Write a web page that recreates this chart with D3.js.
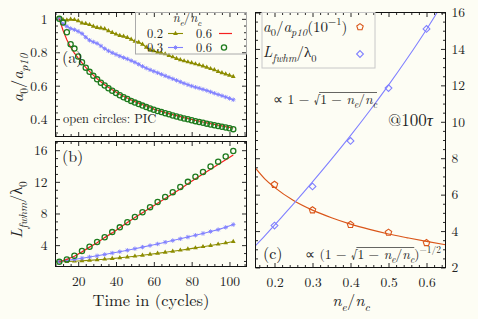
<!DOCTYPE html>
<html>
<head>
<meta charset="utf-8">
<script src="https://cdn.jsdelivr.net/npm/d3@7"></script>
<style>
  body { margin: 0; background: #fdfdf4; }
  svg { display: block; }
</style>
</head>
<body>
<div id="chart"></div>
<script>
// ---- data ----
// panel (a): a0/ap10 vs time, sampled every 2 cycles
const timeA = [10,12,14,16,18,20,22,24,26,28,30,32,34,36,38,40,42,44,46,48,50,52,54,56,58,60,
  62,64,66,68,70,72,74,76,78,80,82,84,86,88,90,92,94,96,98,100,102];
const ampOlive = [1.0,0.995,0.993,0.997,0.995,0.988,0.975,0.972,0.965,0.955,0.948,0.945,0.94,0.928,0.918,
  0.908,0.9,0.895,0.888,0.878,0.866,0.86,0.848,0.83,0.815,0.808,0.8,0.795,0.79,0.78,0.772,0.762,0.755,
  0.748,0.742,0.737,0.73,0.724,0.717,0.71,0.702,0.695,0.685,0.677,0.67,0.662,0.655];
const ampBlue = [1.0,0.97,0.955,0.942,0.935,0.925,0.912,0.89,0.872,0.862,0.853,0.838,0.822,0.808,0.797,
  0.787,0.777,0.768,0.76,0.75,0.74,0.728,0.716,0.705,0.695,0.686,0.677,0.668,0.659,0.65,0.641,0.632,
  0.623,0.614,0.606,0.598,0.591,0.585,0.578,0.571,0.563,0.555,0.547,0.54,0.532,0.524,0.516];
const ampRed = [1.0,0.93,0.875,0.83,0.795,0.765,0.737,0.71,0.686,0.663,0.642,0.623,0.606,0.59,0.576,
  0.562,0.549,0.537,0.526,0.515,0.505,0.496,0.487,0.479,0.471,0.46,0.453,0.446,0.439,0.433,0.427,
  0.421,0.415,0.409,0.404,0.398,0.393,0.388,0.383,0.378,0.373,0.369,0.364,0.36,0.355,0.351,0.347];
const ampPIC = [1.0,0.978,0.92,0.848,0.822,0.775,0.74,0.708,0.683,0.659,0.638,0.618,0.601,0.585,0.57,
  0.556,0.543,0.531,0.52,0.509,0.499,0.49,0.481,0.472,0.464,0.456,0.449,0.442,0.435,0.429,0.422,
  0.416,0.41,0.404,0.399,0.393,0.388,0.383,0.378,0.373,0.368,0.363,0.359,0.354,0.35,0.345,0.34];

// panel (b): Lfwhm/lambda0 vs time, sampled every 4 cycles
const timeB = [10,14,18,22,26,30,34,38,42,46,50,54,58,62,66,70,74,78,82,86,90,94,98,102];
const lenOlive = [1.9,1.93,1.97,2.02,2.08,2.15,2.22,2.3,2.4,2.5,2.6,2.72,2.84,2.96,3.1,3.22,3.36,
  3.5,3.65,3.8,3.95,4.12,4.28,4.45];
const lenBlue = [1.9,2.05,2.2,2.35,2.5,2.65,2.82,3.0,3.17,3.35,3.55,3.75,3.95,4.15,4.37,4.58,4.8,
  5.02,5.25,5.48,5.72,5.96,6.25,6.6];
const lenRed = [1.9,2.2,2.6,3.15,3.75,4.3,4.95,5.55,6.2,6.85,7.5,8.1,8.7,9.3,9.9,10.5,11.1,11.75,
  12.4,13.0,13.6,14.2,14.8,15.4];
const lenPIC = [1.9,2.2,2.65,3.25,3.8,4.4,5.0,5.65,6.25,6.9,7.55,8.15,8.8,9.45,10.1,10.7,11.35,
  12.0,12.65,13.25,13.95,14.55,15.2,15.9];

// panel (c): values at 100 tau vs ne/nc
const density = [0.2,0.3,0.4,0.5,0.6];
const ampAt100 = [6.55,5.15,4.35,3.92,3.35];     // a0/ap10 (x10)
const lenAt100 = [4.3,6.45,8.95,11.85,15.1];     // Lfwhm/lambda0
const fitX = [0.15,0.175,0.2,0.25,0.3,0.35,0.4,0.45,0.5,0.55,0.6,0.65];
const fitAmp = [7.45,6.85,6.4,5.68,5.15,4.73,4.38,4.09,3.84,3.63,3.43,3.25];
const fitLen = [3.2,3.75,4.33,5.49,6.7,7.95,9.24,10.59,12.01,13.5,15.07,16.75];

const tickA = [0.4,0.6,0.8,1.0];
const tickB = [4,8,12,16];
const tickT = [20,40,60,80,100];
const tickCx = [0.2,0.3,0.4,0.5,0.6];
const tickCy = [2,4,6,8,10,12,14,16];

// ---- layout ----
const W = 478, H = 319;
const BG = "#fdfdf4";
const FONT = "'Latin Modern Roman', 'Liberation Serif', serif";
const INK = "#222";
const OLIVE = "#8c8c00", BLUE = "#8080ff", RED = "#f52020", GREEN = "#1e7b1e", ORANGE = "#da561a";

const svg = d3.select("#chart").append("svg").attr("width", W).attr("height", H)
  .attr("font-family", FONT);
svg.append("rect").attr("width", W).attr("height", H).attr("fill", BG);

const pa = { x0: 55.5, x1: 246.5, y0: 12.5, y1: 136.5 };
const pb = { x0: 55.5, x1: 246.5, y0: 141.5, y1: 266.5 };
const pc = { x0: 255.5, x1: 445.5, y0: 12.5, y1: 267.5 };

const xT = d3.scaleLinear().domain([8, 109]).range([pa.x0, pa.x1]);
const yA = d3.scaleLinear().domain([0.296, 1.038]).range([pa.y1, pa.y0]);
const yB = d3.scaleLinear().domain([1.3, 17.1]).range([pb.y1, pb.y0]);
const xC = d3.scaleLinear().domain([0.15, 0.65]).range([pc.x0, pc.x1]);
const yC = d3.scaleLinear().domain([2, 16]).range([pc.y1, pc.y0]);

const noLabel = () => "";

function drawAxis(gen, scale, at, major, minor, fmt, pad) {
  const gMaj = svg.append("g").attr("transform", at)
    .call(gen(scale).tickValues(major).tickSize(-4.5).tickPadding(pad || 0).tickFormat(fmt || noLabel));
  const gMin = svg.append("g").attr("transform", at)
    .call(gen(scale).tickValues(minor).tickSize(-2.5).tickFormat(noLabel));
  [gMaj, gMin].forEach(s => {
    s.attr("font-family", FONT);
    s.select(".domain").remove();
    s.selectAll("line").attr("stroke", "#111").attr("stroke-width", 0.9);
  });
  gMaj.selectAll("text").attr("font-size", 13.5).attr("fill", INK).attr("font-family", FONT);
}

function frame(p) {
  svg.append("rect").attr("x", p.x0).attr("y", p.y0)
    .attr("width", p.x1 - p.x0).attr("height", p.y1 - p.y0)
    .attr("fill", "none").attr("stroke", "#111").attr("stroke-width", 1);
}

// math-ish text: parts = [[string, kind]], kind: i (italic), sub, sup, isub
function tex(parent, x, y, parts, size, anchor) {
  const t = parent.append("text").attr("x", x).attr("y", y)
    .attr("font-size", size).attr("fill", INK).attr("font-family", FONT)
    .attr("text-anchor", anchor || "start");
  let shift = 0;
  const spans = [];
  parts.forEach(([str, kind]) => {
    kind = kind || "";
    const target = kind.includes("sub") ? size * 0.3 : kind.includes("sup") ? -size * 0.42 : 0;
    const ts = t.append("tspan").attr("dy", target - shift).text(str);
    shift = target;
    if (kind.includes("sub") || kind.includes("sup")) ts.attr("font-size", size * 0.7);
    if (kind.startsWith("i")) ts.attr("font-style", "italic");
    spans.push(ts);
  });
  return { text: t, spans };
}

// bar of the square root over spans [from..to]
function overline(spans, from, to, y) {
  const a = spans[from].node().getStartPositionOfChar(0).x;
  const last = spans[to].node();
  const b = last.getEndPositionOfChar(last.getNumberOfChars() - 1).x;
  svg.append("line").attr("x1", a - 1).attr("x2", b).attr("y1", y).attr("y2", y)
    .attr("stroke", INK).attr("stroke-width", 0.7);
}

const nePart = [["n", "i"], ["e", "isub"], ["/"], ["n", "i"], ["c", "isub"]];

// ---- axes ----
const minorT = d3.range(8, 109, 4).filter(v => v % 20 !== 0);
const minorA = d3.range(0.32, 1.04, 0.04).filter(v => Math.abs(v * 5 - Math.round(v * 5)) > 1e-6);
const minorB = d3.range(2, 17.1, 1).filter(v => v % 4 !== 0);
const minorCx = d3.range(0.16, 0.65, 0.02).filter(v => Math.abs(v * 10 - Math.round(v * 10)) > 1e-6);
const minorCy = d3.range(2.5, 16, 0.5).filter(v => v % 2 !== 0);

const fmtA = d => d === 1 ? "1" : d3.format(".1f")(d);

// panel (a)
drawAxis(d3.axisLeft, yA, `translate(${pa.x0},0)`, tickA, minorA, fmtA, 8);
drawAxis(d3.axisRight, yA, `translate(${pa.x1},0)`, tickA, minorA);
drawAxis(d3.axisBottom, xT, `translate(0,${pa.y1})`, tickT, minorT);
drawAxis(d3.axisTop, xT, `translate(0,${pa.y0})`, tickT, minorT);
// panel (b)
drawAxis(d3.axisLeft, yB, `translate(${pb.x0},0)`, tickB, minorB, d3.format("d"), 8);
drawAxis(d3.axisRight, yB, `translate(${pb.x1},0)`, tickB, minorB);
drawAxis(d3.axisBottom, xT, `translate(0,${pb.y1})`, tickT, minorT, d3.format("d"), 10);
drawAxis(d3.axisTop, xT, `translate(0,${pb.y0})`, tickT, minorT);
// panel (c)
drawAxis(d3.axisLeft, yC, `translate(${pc.x0},0)`, tickCy, minorCy);
drawAxis(d3.axisRight, yC, `translate(${pc.x1},0)`, tickCy, minorCy, d3.format("d"), 6);
drawAxis(d3.axisBottom, xC, `translate(0,${pc.y1})`, tickCx, minorCx, d3.format(".1f"), 10);
drawAxis(d3.axisTop, xC, `translate(0,${pc.y0})`, tickCx, minorCx);

// ---- clip paths ----
const defs = svg.append("defs");
[["clipA", pa], ["clipB", pb], ["clipC", pc]].forEach(([id, p]) => {
  defs.append("clipPath").attr("id", id).append("rect")
    .attr("x", p.x0).attr("y", p.y0).attr("width", p.x1 - p.x0).attr("height", p.y1 - p.y0);
});

const triangle = d3.symbol().type(d3.symbolTriangle).size(10);
const starPath = "M-2.2,0H2.2M0,-2.2V2.2M-1.6,-1.6L1.6,1.6M-1.6,1.6L1.6,-1.6";
const pentPath = d3.line()(d3.range(5).map(k => {
  const a = -Math.PI / 2 + k * 2 * Math.PI / 5;
  return [3.4 * Math.cos(a), 3.4 * Math.sin(a)];
})) + "Z";
const diamondPath = "M0,-3.4L3.4,0L0,3.4L-3.4,0Z";

function series(g, xs, ys, xScale, yScale, opt) {
  const pts = xs.map((x, i) => [xScale(x), yScale(ys[i])]);
  if (opt.line) {
    g.append("path").attr("d", d3.line().curve(opt.curve || d3.curveLinear)(pts))
      .attr("fill", "none").attr("stroke", opt.color).attr("stroke-width", opt.width || 1.1);
  }
  if (!opt.marker) return;
  if (opt.marker === "circle") {
    g.selectAll(null).data(pts).enter().append("circle")
      .attr("cx", d => d[0]).attr("cy", d => d[1]).attr("r", 2.6)
      .attr("fill", "none").attr("stroke", opt.color).attr("stroke-width", 1.3);
    return;
  }
  const shape = { tri: triangle, star: starPath, pent: pentPath, diamond: diamondPath }[opt.marker];
  const m = g.selectAll(null).data(pts).enter().append("path")
    .attr("d", shape).attr("transform", d => `translate(${d[0]},${d[1]})`);
  if (opt.marker === "tri") m.attr("fill", opt.color);
  else m.attr("fill", "none").attr("stroke", opt.color)
    .attr("stroke-width", opt.marker === "star" ? 0.9 : 1.1);
}

// panel (a) curves
const gA = svg.append("g").attr("clip-path", "url(#clipA)");
series(gA, timeA, ampOlive, xT, yA, { line: true, color: OLIVE, marker: "tri" });
series(gA, timeA, ampBlue, xT, yA, { line: true, color: BLUE, marker: "star" });
series(gA, timeA, ampRed, xT, yA, { line: true, color: RED, width: 1.2 });
series(gA, timeA, ampPIC, xT, yA, { color: GREEN, marker: "circle" });

// panel (b) curves
const gB = svg.append("g").attr("clip-path", "url(#clipB)");
series(gB, timeB, lenOlive, xT, yB, { line: true, color: OLIVE, marker: "tri" });
series(gB, timeB, lenBlue, xT, yB, { line: true, color: BLUE, marker: "star" });
series(gB, timeB, lenRed, xT, yB, { line: true, color: RED, width: 1.2 });
series(gB, timeB, lenPIC, xT, yB, { color: GREEN, marker: "circle" });

// panel (c)
const gC = svg.append("g").attr("clip-path", "url(#clipC)");
series(gC, fitX, fitAmp, xC, yC, { line: true, color: ORANGE, curve: d3.curveMonotoneX, width: 1.2 });
series(gC, fitX, fitLen, xC, yC, { line: true, color: BLUE, curve: d3.curveMonotoneX, width: 1.1 });
series(gC, density, ampAt100, xC, yC, { color: ORANGE, marker: "pent" });
series(gC, density, lenAt100, xC, yC, { color: BLUE, marker: "diamond" });

// frames on top
frame(pa); frame(pb); frame(pc);

// ---- legend (a) ----
svg.append("rect").attr("x", 135.5).attr("y", 12.5).attr("width", 111).attr("height", 41.5)
  .attr("fill", "none").attr("stroke", "#aaa").attr("stroke-width", 1);
tex(svg, 187, 22, nePart, 12.5, "middle");
const legRows = [
  { y: 37.5, lab: "0.2", color: OLIVE, marker: "tri" },
  { y: 51.5, lab: "0.3", color: BLUE, marker: "star" }
];
legRows.forEach(r => {
  tex(svg, 163, r.y, [[r.lab]], 12.5, "end");
  const cy = r.y - 4;
  svg.append("line").attr("x1", 168).attr("x2", 183).attr("y1", cy).attr("y2", cy)
    .attr("stroke", r.color).attr("stroke-width", 1.1);
  const mk = svg.append("path").attr("transform", `translate(175.5,${cy})`);
  if (r.marker === "tri") mk.attr("d", triangle).attr("fill", r.color);
  else mk.attr("d", starPath).attr("fill", "none").attr("stroke", r.color).attr("stroke-width", 0.9);
  tex(svg, 212, r.y, [["0.6"]], 12.5, "end");
});
svg.append("line").attr("x1", 219).attr("x2", 232).attr("y1", 33.5).attr("y2", 33.5)
  .attr("stroke", RED).attr("stroke-width", 1.2);
svg.append("circle").attr("cx", 224).attr("cy", 47.5).attr("r", 2.6)
  .attr("fill", "none").attr("stroke", GREEN).attr("stroke-width", 1.3);

// ---- legend (c) ----
svg.append("rect").attr("x", 262).attr("y", 12.5).attr("width", 113).attr("height", 55.5)
  .attr("fill", "none").attr("stroke", "#c8c8c8").attr("stroke-width", 1);
tex(svg, 263, 31.5, [["a", "i"], ["0", "sub"], ["/"], ["a", "i"], ["p10", "isub"], ["(10"], ["−1", "sup"], [")"]], 15);
tex(svg, 263, 57, [["L", "i"], ["fwhm", "isub"], ["/λ"], ["0", "sub"]], 15);
svg.append("path").attr("d", pentPath).attr("transform", "translate(360,27)")
  .attr("fill", "none").attr("stroke", ORANGE).attr("stroke-width", 1.1);
svg.append("path").attr("d", diamondPath).attr("transform", "translate(360,54)")
  .attr("fill", "none").attr("stroke", BLUE).attr("stroke-width", 1.1);

// ---- annotations ----
const f1 = tex(svg, 273, 104, [["∝ 1 − √"], ["1 − "]].concat(nePart), 13.5);
overline(f1.spans, 1, f1.spans.length - 1, 92.5);
tex(svg, 388, 126, [["@100"], ["τ", "i"]], 17);
tex(svg, 263, 259, [["(c)"]], 16);
const f2 = tex(svg, 305, 259, [["∝ (1 − √"], ["1 − "]].concat(nePart).concat([[")"], ["−1/2", "sup"]]), 13.5);
overline(f2.spans, 1, 6, 247.5);

tex(svg, 62, 63, [["(a)"]], 16);
tex(svg, 62, 162, [["(b)"]], 16);
tex(svg, 63, 123, [["open circles: PIC"]], 12.5);

// axis titles
const ya = tex(svg, 0, 0, [["a", "i"], ["0", "sub"], ["/"], ["a", "i"], ["p10", "isub"]], 16.5, "middle");
ya.text.attr("transform", "translate(23,78) rotate(-90)");
const yb = tex(svg, 0, 0, [["L", "i"], ["fwhm", "isub"], ["/λ"], ["0", "sub"]], 16, "middle");
yb.text.attr("transform", "translate(22,210) rotate(-90)");
tex(svg, 151, 306, [["Time in (cycles)"]], 16.5, "middle");
tex(svg, 351, 306, nePart, 16.5, "middle");
</script>
</body>
</html>
